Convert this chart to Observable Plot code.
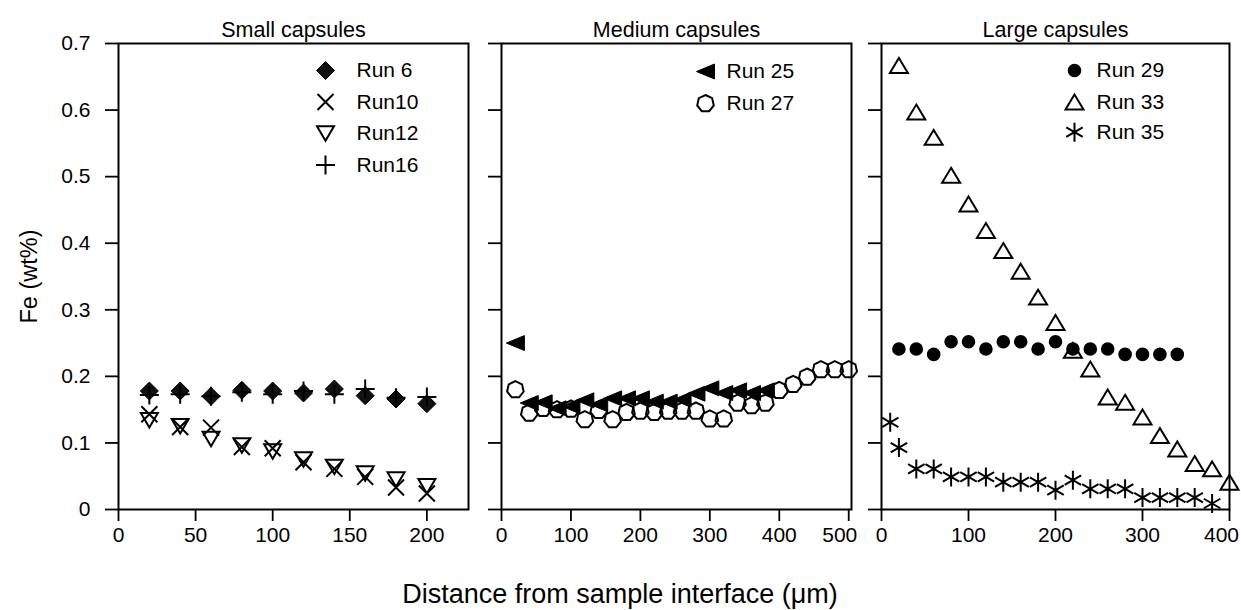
<!DOCTYPE html>
<html><head><meta charset="utf-8">
<script src="https://cdn.jsdelivr.net/npm/d3@7"></script>
<script src="https://cdn.jsdelivr.net/npm/@observablehq/plot@0.6"></script>
<style>
html,body{margin:0;padding:0;background:#fff;}
#chart{position:relative;width:1241px;height:610px;font-family:'Liberation Sans',Arial,sans-serif;color:#000;overflow:hidden;}
#chart svg{position:absolute;top:0;}
#xtitle{position:absolute;left:320px;width:600px;top:578px;line-height:32px;text-align:center;font-size:27px;}
</style></head><body><div id="chart"></div>
<script>
// ---- data ----
const yTicks = [0, 0.1, 0.2, 0.3, 0.4, 0.5, 0.6, 0.7];
const xTicksSmall = [0, 50, 100, 150, 200];
const xTicksMedium = [0, 100, 200, 300, 400, 500];
const xTicksLarge = [0, 100, 200, 300, 400];
const panelTitles = ["Small capsules", "Medium capsules", "Large capsules"];
const yTitle = "Fe (wt%)";
const xTitle = "Distance from sample interface (\u03bcm)";

// Small capsules
const xSmall = [20, 40, 60, 80, 100, 120, 140, 160, 180, 200];
const run6  = [0.178, 0.178, 0.170, 0.179, 0.178, 0.175, 0.181, 0.171, 0.166, 0.159];
const run10 = [0.143, 0.124, 0.123, 0.094, 0.092, 0.071, 0.061, 0.049, 0.033, 0.024];
const run12 = [0.134, 0.125, 0.106, 0.096, 0.087, 0.075, 0.064, 0.054, 0.045, 0.035];
const run16 = [0.172, 0.173, 0.170, 0.176, 0.173, 0.178, 0.173, 0.181, 0.168, 0.169];

// Medium capsules
const x25 = [20, 40, 60, 80, 100, 120, 140, 160, 180, 200, 220, 240, 260, 280, 300, 320, 340, 360, 380];
const run25 = [0.250, 0.160, 0.161, 0.152, 0.155, 0.164, 0.158, 0.167, 0.167, 0.167, 0.162, 0.162, 0.165, 0.174, 0.182, 0.175, 0.179, 0.175, 0.179];
const x27 = [20, 40, 60, 80, 100, 120, 140, 160, 180, 200, 220, 240, 260, 280, 300, 320, 340, 360, 380, 400, 420, 440, 460, 480, 500];
const run27 = [0.180, 0.145, 0.152, 0.150, 0.151, 0.135, 0.149, 0.135, 0.146, 0.148, 0.146, 0.148, 0.148, 0.148, 0.136, 0.136, 0.160, 0.156, 0.160, 0.179, 0.188, 0.199, 0.210, 0.210, 0.210];

// Large capsules
const x29 = [20, 40, 60, 80, 100, 120, 140, 160, 180, 200, 220, 240, 260, 280, 300, 320, 340];
const run29 = [0.241, 0.241, 0.233, 0.252, 0.252, 0.241, 0.252, 0.252, 0.241, 0.252, 0.241, 0.241, 0.241, 0.233, 0.233, 0.233, 0.233];
const x33 = [20, 40, 60, 80, 100, 120, 140, 160, 180, 200, 220, 240, 260, 280, 300, 320, 340, 360, 380, 400];
const run33 = [0.667, 0.597, 0.559, 0.502, 0.459, 0.419, 0.389, 0.358, 0.319, 0.281, 0.239, 0.211, 0.169, 0.161, 0.139, 0.111, 0.091, 0.069, 0.061, 0.041];
const x35 = [10, 20, 40, 60, 80, 100, 120, 140, 160, 180, 200, 220, 240, 260, 280, 300, 320, 340, 360, 380];
const run35 = [0.131, 0.093, 0.061, 0.061, 0.049, 0.049, 0.049, 0.041, 0.041, 0.041, 0.029, 0.044, 0.031, 0.031, 0.031, 0.018, 0.018, 0.018, 0.018, 0.009];

// ---- symbols ----
const sym = (f) => ({draw(ctx, size) { f(ctx, Math.sqrt(size / Math.PI)); }});
const diamond = sym((c, r) => { c.moveTo(0, -r); c.lineTo(r, 0); c.lineTo(0, r); c.lineTo(-r, 0); c.closePath(); });
const times = sym((c, r) => { c.moveTo(-r, -r); c.lineTo(r, r); c.moveTo(-r, r); c.lineTo(r, -r); });
const plus = sym((c, r) => { c.moveTo(-r, 0); c.lineTo(r, 0); c.moveTo(0, -r); c.lineTo(0, r); });
const triDown = sym((c, r) => { const h = 0.85 * r; c.moveTo(-r, -h); c.lineTo(r, -h); c.lineTo(0, h); c.closePath(); });
const triUp = sym((c, r) => { const h = 0.83 * r; c.moveTo(0, -h); c.lineTo(r, h); c.lineTo(-r, h); c.closePath(); });
const triLeft = sym((c, r) => { const h = 0.83 * r; c.moveTo(-r, 0); c.lineTo(r, -h); c.lineTo(r, h); c.closePath(); });
const heptagon = sym((c, r) => { for (let i = 0; i < 7; i++) { const a = -Math.PI / 2 + i * 2 * Math.PI / 7; const px = r * Math.cos(a), py = r * Math.sin(a); if (i) c.lineTo(px, py); else c.moveTo(px, py); } c.closePath(); });
const disc = sym((c, r) => { c.moveTo(r, 0); c.arc(0, 0, r, 0, 2 * Math.PI); });
const asterisk = sym((c, r) => { const t = r * Math.sqrt(3) / 2, u = r / 2; c.moveTo(0, -r); c.lineTo(0, r); c.moveTo(-t, -u); c.lineTo(t, u); c.moveTo(-t, u); c.lineTo(t, -u); });

const rows = (xs, ys) => xs.map((x, i) => ({x, y: ys[i]}));

const panels = [
  {title: panelTitles[0], left: 0, width: 470, marginLeft: 118, marginRight: 2, domain: [0, 227], ticks: xTicksSmall, yLabels: true, lastShift: 0,
   legend: {dx: 207, tdx: 238, dy: [27, 58.5, 90, 121.5]},
   series: [
     {name: "Run 6", data: rows(xSmall, run6), symbol: diamond, r: 9, fill: "#111", stroke: "#000", sw: 1},
     {name: "Run10", data: rows(xSmall, run10), symbol: times, r: 8, fill: "none", stroke: "#000", sw: 2},
     {name: "Run12", data: rows(xSmall, run12), symbol: triDown, r: 8.5, fill: "none", stroke: "#000", sw: 2},
     {name: "Run16", data: rows(xSmall, run16), symbol: plus, r: 9.5, fill: "none", stroke: "#000", sw: 2}
   ]},
  {title: panelTitles[1], left: 470, width: 383, marginLeft: 31, marginRight: 2, domain: [0, 504], ticks: xTicksMedium, yLabels: false, lastShift: -9,
   legend: {dx: 204, tdx: 225, dy: [28, 60]},
   series: [
     {name: "Run 25", data: rows(x25, run25), symbol: triLeft, r: 9, fill: "#000", stroke: "#000", sw: 1, order: 1},
     {name: "Run 27", data: rows(x27, run27), symbol: heptagon, r: 8.5, fill: "none", stroke: "#000", sw: 2, order: 0}
   ]},
  {title: panelTitles[2], left: 853, width: 388, marginLeft: 28, marginRight: 12, domain: [0, 400], ticks: xTicksLarge, yLabels: false, lastShift: -8,
   legend: {dx: 193, tdx: 215, dy: [27, 58.5, 88.7]},
   series: [
     {name: "Run 29", data: rows(x29, run29), symbol: disc, r: 6.8, fill: "#000", stroke: "none", sw: 0},
     {name: "Run 33", data: rows(x33, run33), symbol: triUp, r: 9, fill: "none", stroke: "#000", sw: 2},
     {name: "Run 35", data: rows(x35, run35), symbol: asterisk, r: 9.5, fill: "none", stroke: "#000", sw: 2}
   ]}
];

const chart = document.getElementById("chart");
const FONT = "'Liberation Sans', Arial, sans-serif";
const TICK_FS = 21, LEGEND_FS = 21, TITLE_FS = 21.5, YTITLE_FS = 23.5;

for (const p of panels) {
  const drawOrder = p.series.slice().sort((a, b) => (a.order ?? 0) - (b.order ?? 0));
  const marks = [];
  marks.push(Plot.axisY({ticks: yTicks, tickSize: 13, tickPadding: 15, strokeWidth: 1.8, fontSize: TICK_FS, label: null,
    tickFormat: p.yLabels ? (d => d === 0 ? "0" : d.toFixed(1)) : (() => "")}));
  const lastTick = p.ticks[p.ticks.length - 1];
  marks.push(Plot.axisX({ticks: p.ticks, tickSize: 12, tickPadding: 6, strokeWidth: 1.8, fontSize: TICK_FS, label: null,
    tickFormat: d => (p.lastShift && d === lastTick) ? "" : String(d)}));
  if (p.lastShift) {
    marks.push(Plot.text([lastTick], {x: d => d, text: d => String(d), frameAnchor: "bottom", dy: 18, dx: p.lastShift, lineAnchor: "top", fontSize: TICK_FS}));
  }
  for (const s of drawOrder) {
    marks.push(Plot.dot(s.data, {x: "x", y: "y", symbol: s.symbol, r: s.r, fill: s.fill, stroke: s.stroke, strokeWidth: s.sw}));
  }
  p.series.forEach((s, i) => {
    marks.push(Plot.dot([s.name], {frameAnchor: "top-left", dx: p.legend.dx, dy: p.legend.dy[i], symbol: s.symbol, r: s.r, fill: s.fill, stroke: s.stroke, strokeWidth: s.sw}));
    marks.push(Plot.text([s.name], {text: d => d, frameAnchor: "top-left", dx: p.legend.tdx, dy: p.legend.dy[i], textAnchor: "start", lineAnchor: "middle", fontSize: LEGEND_FS}));
  });
  marks.push(Plot.frame({stroke: "#000", strokeWidth: 2}));
  marks.push(Plot.text([p.title], {text: d => d, frameAnchor: "top", dy: -7, textAnchor: "middle", lineAnchor: "bottom", fontSize: TITLE_FS}));
  if (p.yLabels) {
    marks.push(Plot.text([yTitle], {text: d => d, frameAnchor: "left", dx: -82, rotate: -90, textAnchor: "middle", lineAnchor: "bottom", fontSize: YTITLE_FS}));
  }
  const svg = Plot.plot({
    width: p.width, height: 610,
    marginTop: 43, marginBottom: 101, marginLeft: p.marginLeft, marginRight: p.marginRight,
    x: {domain: p.domain}, y: {domain: [0, 0.7]},
    style: {fontFamily: FONT, fontSize: "20px", background: "none", overflow: "visible", color: "#000"},
    marks
  });
  svg.style.left = p.left + "px";
  chart.appendChild(svg);
}
const xt = document.createElement("div");
xt.id = "xtitle";
xt.textContent = xTitle;
chart.appendChild(xt);
</script>
</body></html>
